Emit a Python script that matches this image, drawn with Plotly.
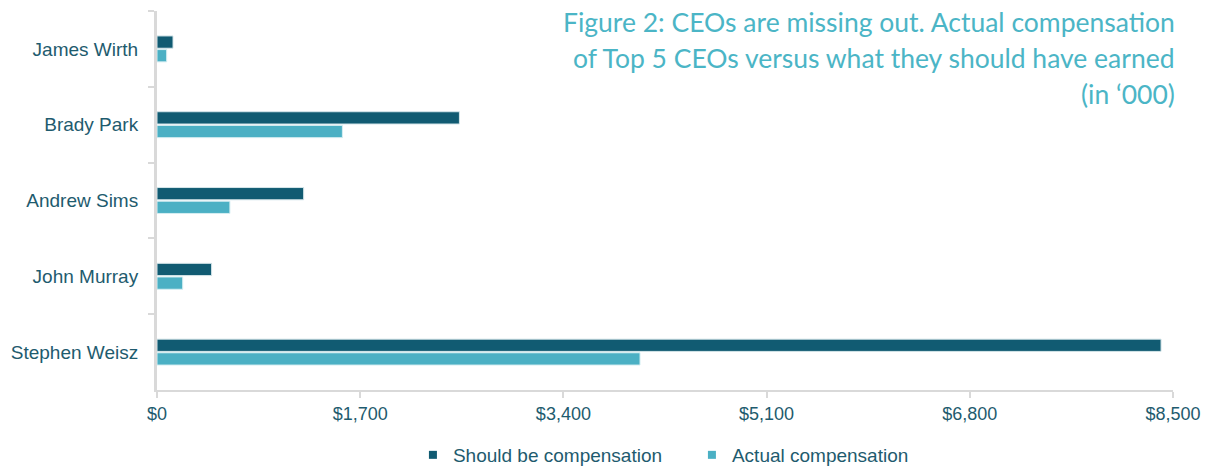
import plotly.graph_objects as go

names = ["James Wirth", "Brady Park", "Andrew Sims", "John Murray", "Stephen Weisz"]
should_be = [134, 2530, 1227, 457, 8400]
actual = [81, 1551, 610, 215, 4041]
tick_vals = [0, 1700, 3400, 5100, 6800, 8500]
tick_text = ["$0", "$1,700", "$3,400", "$5,100", "$6,800", "$8,500"]
title_lines = [
    "Figure 2: CEOs are missing out. Actual compensation",
    "of Top 5 CEOs versus what they should have earned",
    "(in \u2018000)",
]

dark = "#115B72"
light = "#4BB0C4"
label_col = "#1E5B6E"
fnt = "Liberation Sans, Arial"

fig = go.Figure()
fig.add_trace(go.Bar(y=names, x=should_be, orientation="h", name="Should be compensation",
                     showlegend=False,
                     marker=dict(color=dark, line=dict(color="#D6E6EA", width=1))))
fig.add_trace(go.Bar(y=names, x=actual, orientation="h", name="Actual compensation",
                     showlegend=False,
                     marker=dict(color=light, line=dict(color="#D6EEF2", width=1))))
# legend entries with small square symbols
fig.add_trace(go.Scatter(x=[None], y=[None], mode="markers", name="Should be compensation",
                         marker=dict(symbol="square", size=8, color=dark)))
fig.add_trace(go.Scatter(x=[None], y=[None], mode="markers", name="Actual compensation",
                         marker=dict(symbol="square", size=8, color=light)))

fig.update_layout(
    width=1212, height=466,
    margin=dict(l=156, r=38, t=11, b=76),
    paper_bgcolor="white", plot_bgcolor="white",
    barmode="group", bargap=0.64, bargroupgap=0.1,
    showlegend=True,
    legend=dict(orientation="h", x=0.5265, xanchor="center", xref="paper",
                y=(466 - 455) / 466, yanchor="middle", yref="container",
                font=dict(family=fnt, size=19, color=label_col),
                itemwidth=30, tracegroupgap=0, entrywidth=234),
    font=dict(family=fnt, color=label_col),
)
fig.update_xaxes(range=[0, 8500], tickvals=tick_vals, ticktext=tick_text,
                 showgrid=False, zeroline=False, showline=True, linecolor="#D9D9D9", linewidth=2,
                 ticks="outside", ticklen=6, tickcolor="#D9D9D9", tickwidth=2,
                 tickfont=dict(family=fnt, size=18, color=label_col))
fig.update_yaxes(autorange="reversed", showgrid=False, zeroline=False, showline=True,
                 linecolor="#D9D9D9", linewidth=3, ticks="outside", ticklen=6,
                 tickcolor="#D9D9D9", tickwidth=2, tickson="boundaries",
                 ticklabelstandoff=12,
                 tickfont=dict(family=fnt, size=19, color=label_col))

centers = [22, 58, 94]
for line, cy in zip(title_lines, centers):
    fig.add_annotation(text=line, xref="paper", yref="paper", x=1.004, y=(390 - cy) / 379,
                       xanchor="right", yanchor="middle", showarrow=False,
                       font=dict(family="Lato, Open Sans", size=26.5, color="#4BB5C6"))

fig.write_html("out.html")
